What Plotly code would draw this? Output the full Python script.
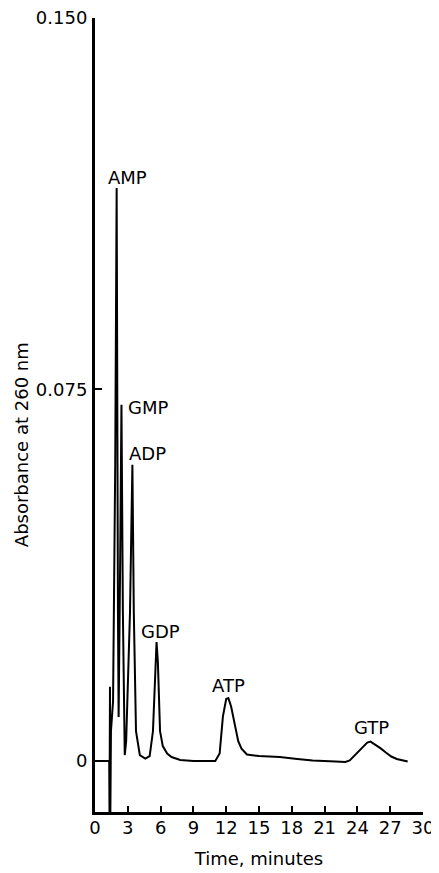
import plotly.graph_objects as go

# Chromatogram: time (minutes) and absorbance at 260 nm
time_min = [0.0, 1.30, 1.33, 1.37, 1.40, 1.46, 1.65, 1.85, 1.98, 2.10, 2.16, 2.30,
            2.42, 2.55, 2.72, 2.85, 3.20, 3.42, 3.55, 3.75, 4.10, 4.60, 5.00, 5.30,
            5.50, 5.63, 5.75, 5.95, 6.20, 6.60, 7.00, 7.80, 9.00, 10.50, 11.00, 11.40,
            11.70, 12.00, 12.20, 12.45, 12.80, 13.10, 13.40, 13.90, 15.00, 16.90, 18.50,
            19.90, 22.00, 22.90, 23.30, 23.70, 24.10, 24.50, 24.90, 25.20, 25.60, 26.10,
            26.60, 27.10, 27.60, 28.10, 28.60]
absorbance = [0.0, 0.0, -0.012, 0.015, -0.012, 0.006, 0.012, 0.060, 0.1157, 0.030, 0.0089, 0.040,
              0.0719, 0.030, 0.0012, 0.004, 0.030, 0.0598, 0.030, 0.006, 0.0012, 0.0005, 0.001, 0.006,
              0.016, 0.024, 0.020, 0.006, 0.003, 0.0015, 0.0008, 0.0002, 0.0, -0.0001, 0.0, 0.0015,
              0.009, 0.0125, 0.0127, 0.011, 0.0075, 0.004, 0.0025, 0.0013, 0.001, 0.0008, 0.0004,
              0.0001, -0.0001, -0.0002, 0.0001, 0.001, 0.002, 0.003, 0.0037, 0.0039, 0.0034, 0.0026,
              0.0017, 0.0009, 0.0004, 0.0001, -0.0001]

peak_names = ["AMP", "GMP", "ADP", "GDP", "ATP", "GTP"]

x_tick_vals = [0, 3, 6, 9, 12, 15, 18, 21, 24, 27, 30]
y_tick_vals = [0, 0.075, 0.150]
y_tick_text = ["0", "0.075", "0.150"]

FONT = "DejaVu Sans"

fig = go.Figure()
fig.add_trace(go.Scatter(x=time_min, y=absorbance, mode="lines",
                         line=dict(color="black", width=2), showlegend=False,
                         hoverinfo="skip"))

# label placement (data coords) for each peak name
label_pos = [(2.93, 0.1179), (4.85, 0.0713), (4.76, 0.0620),
             (5.95, 0.0262), (12.17, 0.0153), (25.25, 0.0067)]
for name, (lx, ly) in zip(peak_names, label_pos):
    fig.add_annotation(x=lx, y=ly, text=name, showarrow=False,
                       xanchor="center", yanchor="middle",
                       font=dict(family=FONT, size=18, color="black"))

fig.add_annotation(x=-0.2256, y=0.462, xref="paper", yref="paper",
                   text="Absorbance at 260 nm", textangle=-90, showarrow=False,
                   xanchor="center", yanchor="middle",
                   font=dict(family=FONT, size=18, color="black"))

# the page body adds an 8px offset, so the figure is 8px smaller than the window
fig.update_layout(
    width=431, height=865,
    margin=dict(l=87, r=16, t=10, b=61, autoexpand=False),
    paper_bgcolor="white", plot_bgcolor="white",
    font=dict(family=FONT, size=18, color="black"),
    xaxis=dict(range=[0, 30], tickvals=x_tick_vals, ticks="inside", ticklen=6,
               tickwidth=2, tickcolor="black", showline=True, linewidth=3,
               linecolor="black", showgrid=False, zeroline=False,
               ticklabelstandoff=-3, automargin=False, ticklabeloverflow="allow",
               title=dict(text="Time, minutes", standoff=16,
                          font=dict(family=FONT, size=18))),
    yaxis=dict(range=[-0.0103, 0.150], tickvals=y_tick_vals, ticktext=y_tick_text,
               ticks="inside", ticklen=7, tickwidth=2, tickcolor="black",
               showline=True, linewidth=3, linecolor="black", showgrid=False,
               zeroline=False, ticklabelstandoff=1, automargin=False,
               ticklabeloverflow="allow"),
)

fig.write_html("out.html")
